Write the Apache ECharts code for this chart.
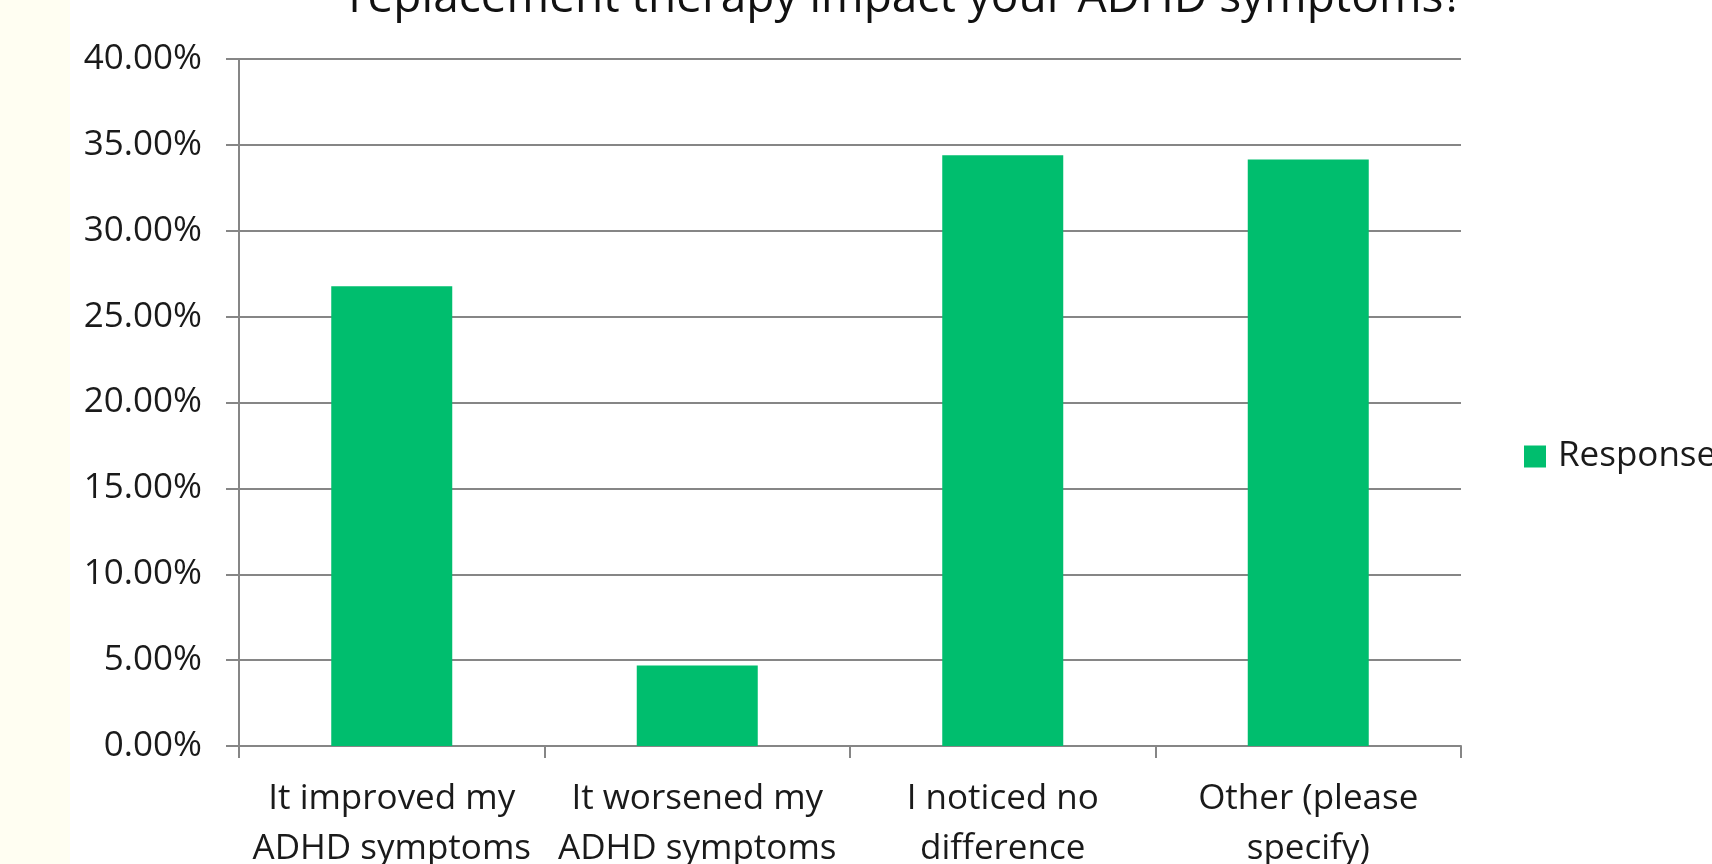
<!DOCTYPE html>
<html>
<head>
<meta charset="utf-8">
<title>ADHD symptoms survey</title>
<script src="https://cdn.jsdelivr.net/npm/echarts@6/dist/echarts.min.js"></script>
<style>
  html, body { margin: 0; padding: 0; background: #ffffff; }
  #chart { width: 1712px; height: 864px; }
</style>
</head>
<body>
<div id="chart"></div>
<script>
// Survey answers and their share of responses (percent)
const categories = [
  'It improved my\nADHD symptoms',
  'It worsened my\nADHD symptoms',
  'I noticed no\ndifference',
  'Other (please\nspecify)'
];
const responses = [26.77, 4.68, 34.40, 34.15];
const seriesName = 'Responses';
const titleText = 'replacement therapy impact your ADHD symptoms?';

const FONT = '"Open Sans", "Noto Sans", sans-serif';
const GRID_COLOR = '#868686';
const BAR_COLOR = '#00BE6E';

const chart = echarts.init(document.getElementById('chart'), null, { renderer: 'canvas' });

chart.setOption({
  backgroundColor: '#ffffff',
  animation: false,
  graphic: [
    // pale side band on the left edge
    { type: 'rect', left: 0, top: 0, shape: { width: 70, height: 864 },
      style: { fill: '#FFFEF2' }, silent: true, z: -10 },
    // title line, partly running off the top edge
    { type: 'text', x: 906, y: -24,
      style: { text: titleText, font: '46px ' + FONT, fill: '#111111',
               align: 'center', verticalAlign: 'top' } }
  ],
  legend: {
    left: 1519, top: 434,
    itemWidth: 22, itemHeight: 22,
    icon: 'rect',
    textStyle: { fontFamily: FONT, fontSize: 35, color: '#1a1a1a', padding: [0, 0, 0, 7] },
    data: [seriesName]
  },
  grid: { left: 239, right: 251, top: 59, bottom: 118,
          containLabel: false, outerBoundsMode: 'none' },
  xAxis: {
    type: 'category',
    data: categories,
    boundaryGap: true,
    axisLine: { lineStyle: { color: GRID_COLOR, width: 2 } },
    axisTick: { show: true, length: 12, lineStyle: { color: GRID_COLOR, width: 2 } },
    axisLabel: { fontFamily: FONT, fontSize: 35, color: '#1a1a1a', margin: 28,
                 lineHeight: 50, interval: 0 }
  },
  yAxis: {
    type: 'value',
    min: 0, max: 40, interval: 5,
    axisLine: { show: true, lineStyle: { color: GRID_COLOR, width: 2 } },
    axisTick: { show: true, length: 13, lineStyle: { color: GRID_COLOR, width: 2 } },
    splitLine: { lineStyle: { color: GRID_COLOR, width: 2 } },
    axisLabel: { fontFamily: FONT, fontSize: 35, color: '#1a1a1a', margin: 37,
                 formatter: v => v.toFixed(2) + '%' }
  },
  series: [{
    name: seriesName,
    type: 'bar',
    data: responses,
    barWidth: 121,
    itemStyle: { color: BAR_COLOR }
  }]
});
</script>
</body>
</html>
